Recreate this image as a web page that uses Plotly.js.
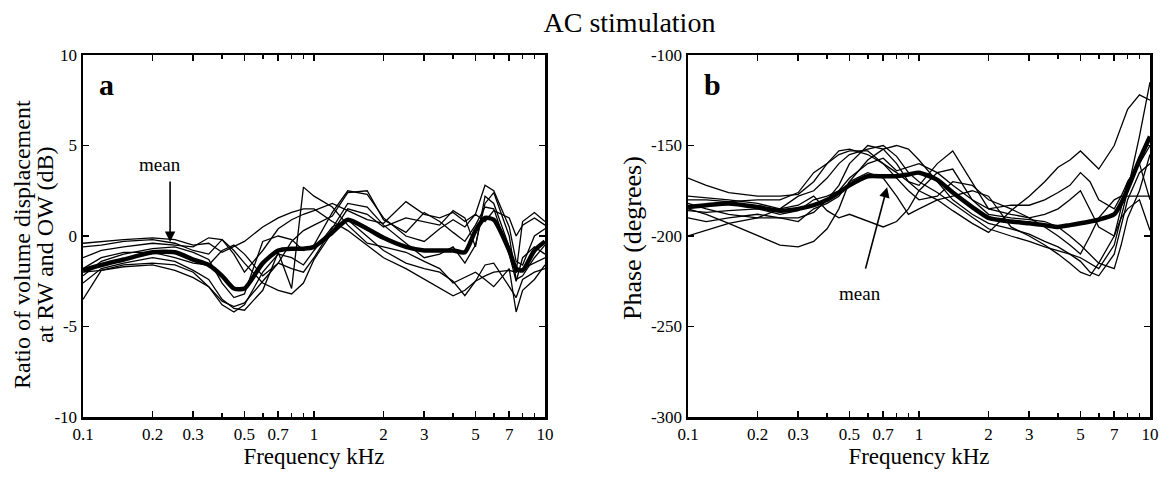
<!DOCTYPE html>
<html><head><meta charset="utf-8">
<script src="https://cdn.plot.ly/plotly-3.0.1.min.js"></script>
<style>html,body{margin:0;padding:0;background:#fff;}#chart{width:1170px;height:482px;}</style>
</head><body><div id="chart"></div>
<script>
// Frequency (kHz) sample points
const freq = [0.1,0.12,0.15,0.2,0.25,0.3,0.35,0.4,0.45,0.5,0.6,0.7,0.8,0.9,1.0,1.2,1.4,1.7,2.0,2.5,3.0,3.5,4.0,4.5,5.0,5.5,6.0,7.0,7.5,8.0,9.0,10];
const xTickVals = [0.1,0.2,0.3,0.5,0.7,1,2,3,5,7,10];
const xTickText = ["0.1","0.2","0.3","0.5","0.7","1","2","3","5","7","10"];
const ratioTickVals = [-10,-5,0,5,10];
const ratioTickText = ["-10","-5","0","5","10"];
const phaseTickVals = [-300,-250,-200,-150,-100];
const phaseTickText = ["-300","-250","-200","-150","-100"];

// Panel a: ratio of volume displacement (dB)
const ratioMean = [-1.9,-1.6,-1.3,-0.9,-0.9,-1.3,-1.6,-2.2,-2.9,-2.9,-1.5,-0.8,-0.7,-0.7,-0.6,0.2,0.9,0.4,-0.1,-0.6,-0.8,-0.8,-0.8,-0.9,0.3,1.0,0.9,-0.8,-1.8,-1.9,-0.8,-0.3];
const ratio1 = [-0.4,-0.3,-0.2,-0.1,-0.2,-0.5,-0.4,-0.9,-0.6,-0.3,0.5,1.0,1.3,1.5,1.5,0.8,0.3,-0.5,-1.2,-1.8,-2.4,-2.9,-3.3,-3.0,-2.5,-2.2,-2.0,-1.9,-2.0,-1.8,-1.5,-1.2];
const ratio2 = [-3.5,-1.9,-1.6,-1.5,-1.6,-2.0,-2.8,-3.6,-3.9,-3.7,-2.5,-1.5,-1.8,-2.0,-1.2,0.4,1.8,1.6,0.6,-0.4,-1.2,-1.0,-0.6,-1.5,-0.5,1.8,2.4,0.0,-2.4,-2.2,-1.2,-0.5];
const ratio3 = [-2.2,-1.4,-1.0,-0.7,-0.6,-0.9,-1.3,-2.6,-3.4,-3.2,-0.3,0.0,-0.2,-0.8,-0.5,1.3,2.5,2.3,1.0,0.0,-0.3,0.4,0.9,0.5,1.2,2.8,2.5,0.5,-1.4,-1.6,0.0,0.4];
const ratio4 = [-2.6,-1.8,-1.5,-1.2,-1.4,-1.9,-2.4,-3.5,-4.0,-4.1,-3.0,-0.9,-2.9,2.7,2.2,1.6,0.6,-0.4,-0.6,-0.9,-1.4,-1.8,-2.6,-2.3,-2.0,-2.4,-2.8,-1.8,-4.2,-3.0,-2.4,-1.6];
const ratio5 = [-1.2,-0.8,-0.6,-0.4,-0.5,-0.6,-0.1,-0.2,-0.8,-1.5,-2.6,-3.0,-3.2,-2.6,-1.3,0.2,1.5,1.2,0.5,1.0,0.8,0.6,1.4,1.0,-0.6,2.2,1.8,-0.6,-2.0,0.8,1.3,0.8];
const ratio6 = [-1.8,-1.2,-0.9,-0.9,-1.2,-1.5,-1.6,-0.8,-0.5,-1.0,-2.2,-1.5,-0.3,0.3,0.6,1.1,2.4,2.5,0.9,0.2,1.3,0.8,0.2,-0.3,0.6,1.6,1.5,-1.0,-2.5,-1.2,-0.6,-1.0];
const ratio7 = [-0.6,-0.5,-0.3,-0.2,-0.4,-0.8,-1.0,-0.2,-1.0,-2.0,-0.8,0.4,0.9,1.2,1.4,1.8,1.4,0.9,0.7,1.9,1.2,1.0,1.3,0.8,1.2,0.8,1.4,1.0,0.0,0.6,1.0,0.6];
const ratio8 = [-2.0,-1.9,-1.7,-1.6,-1.9,-2.3,-2.8,-3.8,-4.2,-3.8,-2.0,-1.0,-1.2,-1.6,-0.8,0.5,0.9,0.0,-0.8,-1.5,-1.8,-2.0,-2.5,-3.3,-2.5,-1.6,-1.5,-2.8,-3.4,-2.4,-2.0,-1.8];

// Panel b: phase (degrees)
const phaseMean = [-184,-183,-182,-184,-186,-185,-183,-180,-176,-172,-167,-167,-167,-166,-165,-169,-176,-184,-190,-192,-193,-194,-195,-194,-193,-192,-191,-188,-182,-174,-158,-145];
const phase1 = [-200,-197,-193,-190,-185,-178,-175,-168,-160,-155,-152,-150,-156,-165,-170,-176,-182,-190,-196,-200,-203,-206,-208,-210,-212,-215,-218,-205,-190,-175,-145,-115];
const phase2 = [-168,-172,-176,-178,-178,-177,-170,-160,-155,-153,-153,-160,-168,-175,-180,-178,-170,-172,-180,-185,-190,-188,-185,-180,-175,-185,-195,-200,-185,-170,-160,-180];
const phase3 = [-185,-188,-193,-200,-205,-206,-203,-196,-185,-170,-158,-152,-150,-152,-158,-170,-180,-188,-193,-196,-199,-203,-206,-210,-214,-220,-222,-210,-195,-180,-165,-160];
const phase4 = [-180,-180,-181,-180,-180,-176,-165,-160,-153,-152,-155,-160,-165,-170,-175,-180,-186,-193,-198,-186,-178,-170,-162,-158,-153,-158,-163,-150,-140,-130,-122,-125];
const phase5 = [-178,-179,-180,-182,-185,-183,-178,-186,-190,-188,-192,-195,-192,-185,-175,-165,-163,-180,-188,-190,-191,-192,-195,-200,-205,-210,-215,-218,-205,-190,-175,-155];
const phase6 = [-182,-185,-188,-190,-190,-190,-187,-180,-172,-160,-150,-152,-160,-170,-172,-160,-153,-170,-185,-188,-190,-195,-200,-205,-210,-200,-190,-180,-178,-178,-178,-178];
const phase7 = [-186,-187,-186,-185,-188,-186,-180,-178,-175,-168,-160,-157,-164,-162,-160,-165,-172,-180,-185,-183,-183,-180,-176,-172,-165,-170,-180,-185,-178,-170,-160,-150];
const phase8 = [-190,-192,-190,-188,-190,-192,-185,-182,-178,-170,-165,-168,-178,-188,-185,-180,-178,-175,-178,-195,-200,-205,-210,-215,-220,-222,-215,-200,-190,-185,-180,-197];

const ratioCurves = [ratio1,ratio2,ratio3,ratio4,ratio5,ratio6,ratio7,ratio8];
const phaseCurves = [phase1,phase2,phase3,phase4,phase5,phase6,phase7,phase8];

const traces = [];
ratioCurves.forEach(c => traces.push({x:freq,y:c,xaxis:'x',yaxis:'y',mode:'lines',line:{color:'#000',width:1.3},hoverinfo:'skip'}));
traces.push({x:freq,y:ratioMean,xaxis:'x',yaxis:'y',mode:'lines',line:{color:'#000',width:4.5,shape:'spline',smoothing:0.6}});
phaseCurves.forEach(c => traces.push({x:freq,y:c,xaxis:'x2',yaxis:'y2',mode:'lines',line:{color:'#000',width:1.3},hoverinfo:'skip'}));
traces.push({x:freq,y:phaseMean,xaxis:'x2',yaxis:'y2',mode:'lines',line:{color:'#000',width:4.5,shape:'spline',smoothing:0.6}});

const serif = 'Liberation Serif, Times New Roman, serif';
const tickFont = {family:serif,size:17,color:'#000'};
function xAxis(domain, anchor){
  return {domain:domain, anchor:anchor, type:'log', range:[-1,1], tickmode:'array', tickvals:xTickVals, ticktext:xTickText,
    ticks:'inside', ticklen:6, tickwidth:1.5, tickcolor:'#000', showline:true, linewidth:2.5, linecolor:'#000', mirror:'ticks',
    showgrid:false, zeroline:false, tickfont:tickFont,
    minor:{tickmode:'array', tickvals:[0.4,0.6,0.8,0.9,4,6,8,9], ticks:'inside', ticklen:4, tickcolor:'#000', showgrid:false},
    title:{text:'Frequency kHz', font:{family:serif,size:23,color:'#000'}, standoff:4}};
}
function yAxis(domain, anchor, range, vals, text){
  return {domain:domain, anchor:anchor, range:range, tickmode:'array', tickvals:vals, ticktext:text,
    ticks:'inside', ticklen:6, tickwidth:1.5, tickcolor:'#000', showline:true, linewidth:2.5, linecolor:'#000', mirror:'ticks',
    showgrid:false, zeroline:false, tickfont:tickFont};
}
const yDom = [1-417/482, 1-55/482];
const titleFont = {family:serif,size:24,color:'#000'};
const layout = {
  width:1170, height:482, margin:{l:0,r:0,t:0,b:0}, paper_bgcolor:'#fff', plot_bgcolor:'#fff', showlegend:false,
  title:{text:'AC stimulation', font:{family:serif,size:28,color:'#000'}, x:0.538, xanchor:'center', y:1-22/482, yanchor:'middle'},
  xaxis: xAxis([83/1170,545/1170],'y'),
  yaxis: yAxis(yDom,'x',[-10,10],ratioTickVals,ratioTickText),
  xaxis2: xAxis([688/1170,1150/1170],'y2'),
  yaxis2: yAxis(yDom,'x2',[-300,-100],phaseTickVals,phaseTickText),
  annotations:[
    {xref:'paper',yref:'paper',x:22/1170,y:1-245/482,textangle:-90,text:'Ratio of volume displacement',showarrow:false,font:titleFont,xanchor:'center',yanchor:'middle'},
    {xref:'paper',yref:'paper',x:45/1170,y:1-245/482,textangle:-90,text:'at RW and OW (dB)',showarrow:false,font:titleFont,xanchor:'center',yanchor:'middle'},
    {xref:'paper',yref:'paper',x:632/1170,y:1-238/482,textangle:-90,text:'Phase (degrees)',showarrow:false,font:{family:serif,size:26,color:'#000'},xanchor:'center',yanchor:'middle'},
    {xref:'x domain',yref:'y domain',x:0.03,y:0.97,xanchor:'left',yanchor:'top',text:'<b>a</b>',showarrow:false,font:{family:serif,size:30,color:'#000'}},
    {xref:'x2 domain',yref:'y2 domain',x:0.03,y:0.97,xanchor:'left',yanchor:'top',text:'<b>b</b>',showarrow:false,font:{family:serif,size:30,color:'#000'}},
    {xref:'x',yref:'y',x:-0.667,y:3.96,text:'mean',showarrow:false,font:{family:serif,size:19,color:'#000'}},
    {xref:'x',yref:'y',x:-0.623,y:-0.33,text:'',showarrow:true,arrowhead:2,arrowsize:1.3,arrowwidth:1.6,arrowcolor:'#000',ax:0,ay:-62},
    {xref:'x2',yref:'y2',x:-0.256,y:-231.5,text:'mean',showarrow:false,font:{family:serif,size:19,color:'#000'}},
    {xref:'x2',yref:'y2',x:-0.138,y:-173,text:'',showarrow:true,arrowhead:2,arrowsize:1.3,arrowwidth:1.6,arrowcolor:'#000',ax:-22,ay:83}
  ]
};
Plotly.newPlot('chart', traces, layout, {staticPlot:true, displayModeBar:false});
</script></body></html>
